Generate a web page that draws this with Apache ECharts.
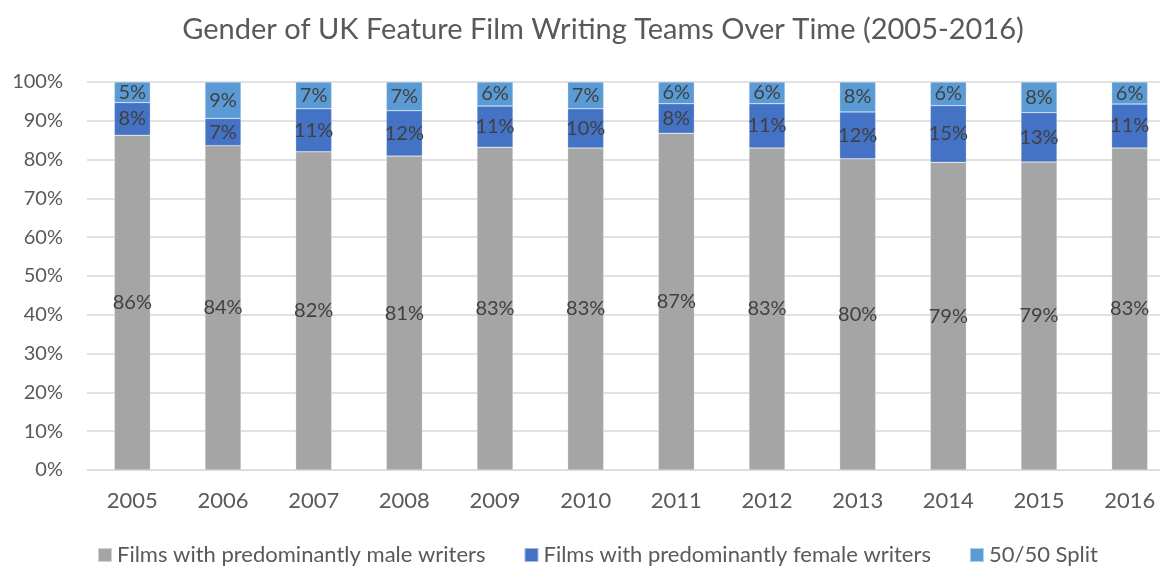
<!DOCTYPE html>
<html>
<head>
<meta charset="utf-8">
<script src="https://cdn.jsdelivr.net/npm/echarts@6/dist/echarts.min.js"></script>
<style>
  html, body { margin: 0; padding: 0; background: #fff; overflow: hidden; }
  #chart { width: 1175px; height: 566px; }
</style>
</head>
<body>
<div id="chart"></div>
<script>
// years on the x axis
const years = ['2005', '2006', '2007', '2008', '2009', '2010', '2011', '2012', '2013', '2014', '2015', '2016'];
// shares in percent
const maleShare = [86.3, 83.6, 82.0, 80.9, 83.2, 83.0, 86.8, 83.0, 80.2, 79.3, 79.4, 83.0];
const femaleShare = [8.4, 7.0, 11.1, 11.7, 10.6, 10.1, 7.6, 11.4, 12.1, 14.6, 12.7, 11.3];
const splitShare = [5.3, 9.4, 6.9, 7.4, 6.2, 6.9, 5.6, 5.6, 7.7, 6.1, 7.9, 5.7];
const yTicks = [0, 10, 20, 30, 40, 50, 60, 70, 80, 90, 100];

const font = 'Lato, "Open Sans", sans-serif';
const lbl = {
  show: true,
  position: 'inside',
  color: '#404040',
  fontSize: 20,
  fontFamily: font,
  formatter: p => Math.round(p.value) + '%'
};

function bar(name, data, color) {
  return {
    name: name,
    type: 'bar',
    stack: 'all',
    barWidth: 36,
    data: data,
    itemStyle: { color: color, borderColor: 'rgba(255,255,255,0.5)', borderWidth: 0.5 },
    label: lbl,
    emphasis: { disabled: true }
  };
}

const chart = echarts.init(document.getElementById('chart'));
chart.setOption({
  animation: false,
  backgroundColor: '#fff',
  title: {
    text: 'Gender of UK Feature Film Writing Teams Over Time (2005-2016)',
    left: 598,
    textAlign: 'center',
    top: 10,
    textStyle: { color: '#595959', fontSize: 29, fontWeight: 'normal', fontFamily: font }
  },
  legend: {
    bottom: -5,
    left: 92,
    itemWidth: 14,
    itemHeight: 14,
    itemGap: 38,
    icon: 'rect',
    textStyle: { color: '#595959', fontSize: 22, fontFamily: font },
    data: ['Films with predominantly male writers', 'Films with predominantly female writers', '50/50 Split']
  },
  grid: { left: 87, right: 0, top: 82, bottom: 96 },
  xAxis: {
    type: 'category',
    data: years,
    axisLine: { lineStyle: { color: '#d9d9d9' } },
    axisTick: { show: false },
    axisLabel: { color: '#595959', fontSize: 22, fontFamily: font, margin: 20 }
  },
  yAxis: {
    type: 'value',
    min: yTicks[0],
    max: yTicks[yTicks.length - 1],
    interval: 10,
    axisLine: { show: false },
    axisTick: { show: false },
    splitLine: { lineStyle: { color: '#d9d9d9', width: 1.5 } },
    axisLabel: { color: '#595959', fontSize: 20, fontFamily: font, margin: 24, formatter: '{value}%' }
  },
  series: [
    bar('Films with predominantly male writers', maleShare, '#a5a5a5'),
    bar('Films with predominantly female writers', femaleShare, '#4472c4'),
    bar('50/50 Split', splitShare, '#5b9bd5')
  ]
});
</script>
</body>
</html>
